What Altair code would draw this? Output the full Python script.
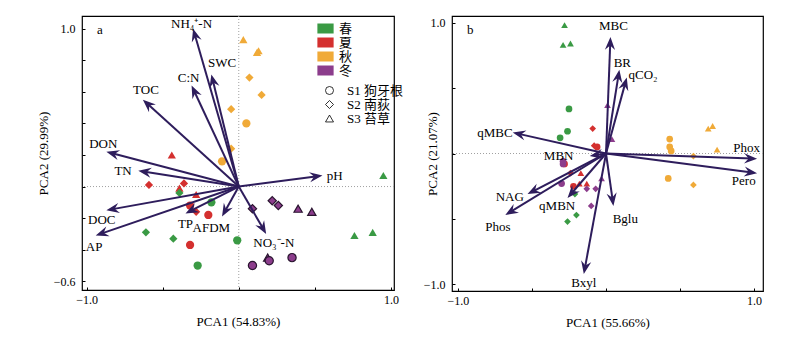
import math
import altair as alt
import pandas as pd

FONT = "Liberation Serif, Noto Sans CJK SC"
ARROW = "#2e1d5c"

SEASONS = ["春", "夏", "秋", "冬"]
SEASON_COLORS = ["#3a9a44", "#d4302f", "#f0aa38", "#8c3d8c"]
SITES = ["S1 狗牙根", "S2 南荻", "S3 苔草"]
SITE_SHAPES = ["circle", "diamond", "triangle-up"]

# ---------------- panel a : loadings ----------------
a_vars = ["NH₄⁺-N", "SWC", "C:N", "TOC", "DON", "TN", "pH", "DOC", "AP", "TP", "AFDM", "NO₃⁻-N"]
a_pc1 = [-0.30, -0.18, -0.31, -0.63, -0.87, -0.66, 0.55, -0.87, -0.94, -0.35, -0.11, 0.18]
a_pc2 = [1.00, 0.71, 0.64, 0.55, 0.22, 0.10, 0.07, -0.15, -0.31, -0.17, -0.19, -0.30]
a_lab_pc1 = [-0.31, -0.11, -0.33, -0.61, -0.89, -0.76, 0.63, -0.90, -0.95, -0.35, -0.18, 0.23]
a_lab_pc2 = [1.03, 0.78, 0.69, 0.61, 0.27, 0.10, 0.07, -0.21, -0.38, -0.24, -0.26, -0.36]

# ---------------- panel a : scores ----------------
a_season = (["秋"] * 9 + ["夏"] * 9 + ["春"] * 9 + ["冬"] * 9)
a_site = (["S3 苔草"] * 3 + ["S2 南荻"] * 4 + ["S1 狗牙根"] * 2
          + ["S3 苔草"] * 3 + ["S2 南荻"] * 3 + ["S1 狗牙根"] * 3
          + ["S3 苔草"] * 3 + ["S2 南荻"] * 3 + ["S1 狗牙根"] * 3
          + ["S2 南荻"] * 3 + ["S3 苔草"] * 3 + ["S1 狗牙根"] * 3)
a_s1 = [0.03, 0.13, 0.12, 0.07, 0.15, -0.05, -0.05, 0.05, -0.11,
        -0.44, -0.39, -0.28, -0.59, -0.36, -0.28, -0.32, -0.20, -0.32,
        0.95, 0.76, 0.88, -0.39, -0.61, -0.43, -0.18, -0.01, -0.27,
        0.09, 0.22, 0.26, 0.39, 0.48, 0.19, 0.09, 0.20, 0.35]
a_s2 = [0.93, 0.86, 0.85, 0.69, 0.58, 0.49, 0.24, 0.40, 0.16,
        0.20, -0.01, -0.05, 0.01, 0.02, -0.16, -0.12, -0.18, -0.37,
        0.07, -0.31, -0.29, -0.04, -0.29, -0.33, -0.10, -0.34, -0.50,
        -0.14, -0.09, -0.12, -0.14, -0.16, -0.45, -0.50, -0.47, -0.45]

# ---------------- panel b : loadings ----------------
b_vars = ["MBC", "BR", "qCO₂", "qMBC", "MBN", "Phox", "Pero", "NAG", "Phos", "qMBN", "Bglu", "Bxyl"]
b_pc1 = [0.03, 0.09, 0.14, -0.63, -0.11, 1.02, 1.02, -0.53, -0.68, -0.26, 0.05, -0.15]
b_pc2 = [0.89, 0.64, 0.58, 0.16, -0.02, -0.04, -0.15, -0.31, -0.47, -0.34, -0.40, -0.92]
b_lab_pc1 = [0.05, 0.11, 0.25, -0.75, -0.32, 0.95, 0.93, -0.65, -0.73, -0.33, 0.13, -0.15]
b_lab_pc2 = [0.97, 0.69, 0.60, 0.16, -0.02, 0.04, -0.21, -0.33, -0.56, -0.40, -0.50, -0.99]

# ---------------- panel b : scores ----------------
b_season = (["春"] * 9 + ["夏"] * 9 + ["冬"] * 9 + ["秋"] * 9)
b_site = (["S3 苔草"] * 3 + ["S1 狗牙根"] * 3 + ["S2 南荻"] * 3
          + ["S2 南荻"] * 3 + ["S1 狗牙根"] * 3 + ["S3 苔草"] * 3
          + ["S3 苔草"] * 3 + ["S1 狗牙根"] * 3 + ["S2 南荻"] * 3
          + ["S3 苔草"] * 3 + ["S1 狗牙根"] * 4 + ["S2 南荻"] * 2)
b_s1 = [-0.28, -0.29, -0.24, -0.25, -0.26, -0.31, -0.21, -0.20, -0.26,
        -0.09, -0.08, -0.24, -0.28, -0.22, -0.06, -0.17, -0.18, -0.13,
        0.01, 0.04, -0.03, -0.29, -0.30, -0.29, -0.13, -0.07, -0.10,
        0.69, 0.72, 0.75, 0.43, 0.43, 0.44, 0.42, 0.59, 0.59]
b_s2 = [0.98, 0.83, 0.84, 0.34, 0.17, 0.12, -0.31, -0.47, -0.52,
        0.19, 0.06, -0.15, -0.08, -0.25, 0.05, -0.15, -0.23, -0.23,
        0.37, 0.11, -0.19, -0.08, -0.23, -0.06, -0.27, -0.27, -0.40,
        0.19, 0.21, 0.03, 0.11, 0.05, 0.02, -0.19, -0.02, -0.24]

HEAD = "M0,0L0.75,1.9L0,1.25L-0.75,1.9Z"
RECT = "M-1.3,-0.8H1.3V0.8H-1.3Z"


def label_expr(vals):
    cond = " || ".join(f"abs(datum.value - ({v})) < 1e-6" for v in vals)
    return f"({cond}) ? format(datum.value, '.1f') : ''"


def panel(vars_, p1, p2, l1, l2, season, site, s1, s2, xdom, ydom, w, h,
          xt, yt, xticks, yticks, xlabs, ylabs, letter, ytitle_pad,
          show_legend, winter_outline, vline, psize):
    sx = w / (xdom[1] - xdom[0])
    sy = h / (ydom[1] - ydom[0])
    ang, e1, e2 = [], [], []
    for a, b in zip(p1, p2):
        dxp, dyp = a * sx, b * sy
        ln = math.hypot(dxp, dyp)
        ang.append(math.degrees(math.atan2(dxp, dyp)) % 360)
        f = max(ln - 5, 0) / ln
        e1.append(a * f)
        e2.append(b * f)
    load = pd.DataFrame({"var": vars_, "pc1": p1, "pc2": p2, "e1": e1, "e2": e2,
                         "l1": l1, "l2": l2, "ang": ang, "o1": 0.0, "o2": 0.0})
    pts = pd.DataFrame({"season": season, "site": site, "s1": s1, "s2": s2})

    xs = alt.Scale(domain=xdom, nice=False, zero=False)
    ys = alt.Scale(domain=ydom, nice=False, zero=False)
    common = dict(domain=False, grid=False, offset=-3, tickSize=3, labelFlush=False,
                  labelOverlap=False, tickColor="black", labelFont=FONT, titleFont=FONT,
                  labelFontSize=12, titleFontSize=13, titleFontWeight="normal",
                  labelColor="black", titleColor="black")
    xax = alt.Axis(values=xticks, labelExpr=label_expr(xlabs), title=xt,
                   labelPadding=4, titlePadding=10, **common)
    yax = alt.Axis(values=yticks, labelExpr=label_expr(ylabs), title=yt,
                   labelPadding=7, titlePadding=ytitle_pad, **common)

    zero = pd.DataFrame({"z": [0.0]})
    layers = [
        alt.Chart(zero).mark_rule(color="#a0a0a0", strokeDash=[1, 2], strokeWidth=1).encode(
            y=alt.Y("z:Q", scale=ys, axis=yax))
    ]
    if vline:
        layers.append(alt.Chart(zero).mark_rule(color="#a0a0a0", strokeDash=[1, 2], strokeWidth=1).encode(
            x=alt.X("z:Q", scale=xs, axis=xax)))

    if show_legend:
        cleg = alt.Legend(orient="none", legendX=237, legendY=6, title=None, symbolType=RECT,
                          symbolSize=156, symbolStrokeWidth=0, labelFont=FONT, labelFontSize=13,
                          rowPadding=-4, labelOffset=7, symbolOpacity=1, labelColor="black")
        sleg = alt.Legend(orient="none", legendX=241, legendY=68, title=None, symbolSize=64,
                          symbolFillColor="white", symbolStrokeColor="black",
                          symbolStrokeWidth=0.8, labelFont=FONT, labelFontSize=13,
                          rowPadding=-1, labelOffset=11, symbolOpacity=1, labelColor="black")
    else:
        cleg = None
        sleg = None

    enc = dict(
        x=alt.X("s1:Q", scale=xs, axis=xax),
        y=alt.Y("s2:Q", scale=ys, axis=yax),
        color=alt.Color("season:N", scale=alt.Scale(domain=SEASONS, range=SEASON_COLORS), legend=cleg),
        shape=alt.Shape("site:N", scale=alt.Scale(domain=SITES, range=SITE_SHAPES), legend=sleg),
    )
    if winter_outline:
        enc["stroke"] = alt.condition(alt.datum.season == "冬", alt.value("#2a1530"), alt.value(None))
        enc["strokeWidth"] = alt.condition(alt.datum.season == "冬", alt.value(1.2), alt.value(0))
    pmark = alt.Chart(pts).mark_point(filled=True, size=psize, opacity=1).encode(**enc)
    layers.append(pmark)

    layers.append(alt.Chart(load).mark_rule(color=ARROW, strokeWidth=2).encode(
        x=alt.X("o1:Q", scale=xs, axis=xax), y=alt.Y("o2:Q", scale=ys, axis=yax),
        x2="e1:Q", y2="e2:Q"))
    layers.append(alt.Chart(load).mark_point(shape=HEAD, filled=True, size=185, color=ARROW,
                                             opacity=1, strokeWidth=0).encode(
        x=alt.X("pc1:Q", scale=xs, axis=xax), y=alt.Y("pc2:Q", scale=ys, axis=yax),
        angle=alt.Angle("ang:Q", scale=None)))
    layers.append(alt.Chart(load).mark_text(font=FONT, fontSize=13, color="black",
                                            baseline="middle", align="center").encode(
        x=alt.X("l1:Q", scale=xs, axis=xax), y=alt.Y("l2:Q", scale=ys, axis=yax), text="var:N"))
    layers.append(alt.Chart(zero).mark_text(font=FONT, fontSize=13, color="black",
                                            baseline="middle", align="left").encode(
        x=alt.value(15), y=alt.value(14), text=alt.value(letter)))

    return alt.layer(*layers).properties(width=w, height=h)


pa = panel(a_vars, a_pc1, a_pc2, a_lab_pc1, a_lab_pc2, a_season, a_site, a_s1, a_s2,
           [-1.03, 1.02], [-0.655, 1.08], 312, 274, "PCA1 (54.83%)", "PCA2 (29.99%)",
           [-1, -0.5, 0, 0.5, 1], [-0.6, -0.4, -0.2, 0, 0.2, 0.4, 0.6, 0.8, 1.0],
           [-1, 1], [1, -0.6], "a", 3, True, True, True, 68)
pb = panel(b_vars, b_pc1, b_pc2, b_lab_pc1, b_lab_pc2, b_season, b_site, b_s1, b_s2,
           [-1.04, 1.06], [-1.05, 1.05], 311, 275, "PCA1 (55.66%)", "PCA2 (21.07%)",
           [-1, -0.5, 0, 0.5, 1], [-1, -0.5, 0, 0.5, 1],
           [-1, 1], [1, -1], "b", -16, False, False, False, 45)

chart = alt.hconcat(pa, pb, spacing=18).resolve_scale(
    x="independent", y="independent", color="independent", shape="independent"
).properties(
    padding={"left": 36, "top": 14, "right": 5, "bottom": 5},
    background="white"
).configure_view(stroke="black", strokeWidth=1.2)

chart.save("out.html", embed_options={"renderer": "svg", "actions": False})
